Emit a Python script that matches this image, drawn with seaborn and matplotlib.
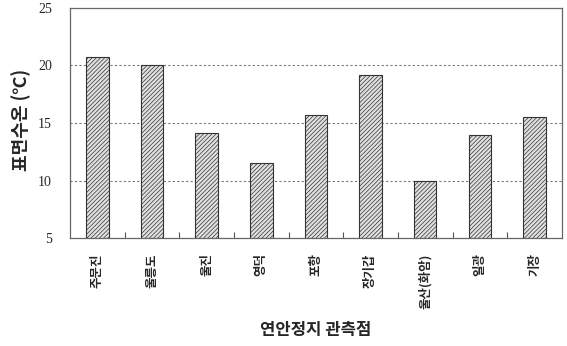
import matplotlib
matplotlib.use("Agg")
import matplotlib.pyplot as plt
import seaborn as sns
import pandas as pd
from matplotlib.ticker import FixedLocator

stations = ["주문진", "울릉도", "울진", "영덕", "포항", "장기갑", "울산(화암)", "일광", "기장"]
temps = [20.7, 20.0, 14.1, 11.5, 15.7, 19.2, 10.0, 14.0, 15.5]
yticks = [5, 10, 15, 20, 25]

sns.set_theme(style="white")
plt.rcParams['font.family'] = ['Noto Sans CJK KR', 'DejaVu Sans']
plt.rcParams['hatch.linewidth'] = 0.5
plt.rcParams['hatch.color'] = '#555555'

df = pd.DataFrame({"station": stations, "temp": temps})

fig = plt.figure(figsize=(5.67, 3.46), dpi=100)
ax = fig.add_axes([0.1235, 0.312, 0.8675, 0.665])

sns.barplot(data=df, x="station", y="temp", ax=ax, color="#e0e0e0",
            width=0.41, edgecolor="#333333", linewidth=0.8, saturation=1)
for p in ax.patches:
    p.set_hatch("////////")

ax.set_ylim(5, 25)
ax.set_xlim(-0.5, len(stations) - 0.5)
ax.set_yticks(yticks)
ax.set_yticklabels([str(v) for v in yticks], family="Liberation Serif", fontsize=10)
ax.tick_params(axis="y", length=0, pad=13)

ax.set_xticks(range(len(stations)))
ax.set_xticklabels(stations, rotation=90, fontsize=9, fontweight="bold", va="top")
ax.tick_params(axis="x", which="major", length=0, pad=11)
ax.xaxis.set_minor_locator(FixedLocator([i + 0.5 for i in range(len(stations) - 1)]))
ax.tick_params(axis="x", which="minor", direction="in", length=4, width=0.8, color="#555555", bottom=True)

for v in [10, 15, 20]:
    ax.axhline(v, color="#777777", linestyle=(0, (2, 2)), linewidth=0.8, zorder=0)

for s in ax.spines.values():
    s.set_color("#666666")
    s.set_linewidth(0.9)

ax.set_xlabel("연안정지 관측점", fontsize=12, fontweight="bold", va="center")
ax.xaxis.set_label_coords(0.5, -0.40)
ax.set_ylabel("표면수온 (℃)", fontsize=13, fontweight="bold", va="center")
ax.yaxis.set_label_coords(-0.10, 0.513)

fig.savefig("out.png", dpi=100)
